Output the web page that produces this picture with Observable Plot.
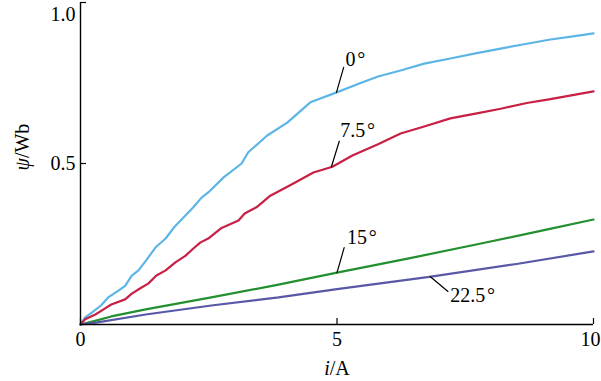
<!DOCTYPE html>
<html><head><meta charset="utf-8">
<script src="https://cdn.jsdelivr.net/npm/d3@7"></script>
<script src="https://cdn.jsdelivr.net/npm/@observablehq/plot@0.6"></script>
<style>
body{margin:0;background:#fff;font-family:'Liberation Serif',serif;}
.figwrap svg text { font-family: 'Liberation Serif' !important; }
</style>
</head><body><div id="fig" class="figwrap"></div>
<script>
const xTicks = [0, 5, 10];
const yTicks = [0.5, 1.0];
const seriesNames = ["0°", "7.5°", "15°", "22.5°"];
const seriesColors = ["#5cb5e6", "#c81f44", "#238f2f", "#5858a8"];

const current0 = [0, 0.09, 0.22, 0.4, 0.54, 0.74, 0.87, 1.0, 1.13, 1.28, 1.46, 1.66, 1.82, 1.97, 2.2, 2.36, 2.49, 2.79, 3.14, 3.27, 3.64, 4.03, 4.48, 4.93, 5.46, 5.8, 6.24, 6.7, 7.21, 7.7, 8.19, 8.7, 9.16, 9.6, 10];
const psi0     = [0, 0.022, 0.037, 0.059, 0.084, 0.105, 0.12, 0.152, 0.168, 0.199, 0.239, 0.267, 0.301, 0.326, 0.364, 0.394, 0.41, 0.457, 0.5, 0.535, 0.587, 0.627, 0.69, 0.717, 0.75, 0.77, 0.789, 0.81, 0.826, 0.842, 0.857, 0.872, 0.885, 0.895, 0.904];

const current75 = [0, 0.09, 0.29, 0.48, 0.6, 0.87, 1.0, 1.19, 1.32, 1.48, 1.66, 1.85, 2.05, 2.2, 2.34, 2.49, 2.75, 3.08, 3.2, 3.43, 3.7, 4.15, 4.54, 4.91, 5.3, 5.8, 6.24, 6.7, 7.21, 7.7, 8.19, 8.7, 9.16, 10];
const psi75     = [0, 0.016, 0.031, 0.05, 0.062, 0.078, 0.096, 0.115, 0.127, 0.152, 0.168, 0.193, 0.214, 0.236, 0.255, 0.267, 0.3, 0.323, 0.345, 0.364, 0.4, 0.438, 0.472, 0.49, 0.525, 0.56, 0.593, 0.615, 0.64, 0.655, 0.67, 0.688, 0.7, 0.724];

const current15 = [0, 0.3, 0.6, 1.27, 2.55, 3.86, 5, 6.45, 7.76, 9.06, 10];
const psi15     = [0, 0.012, 0.025, 0.047, 0.084, 0.124, 0.161, 0.207, 0.25, 0.294, 0.326];

const current225 = [0, 0.3, 1.27, 2.55, 3.86, 5, 6.8, 8.5, 10];
const psi225     = [0, 0.006, 0.031, 0.059, 0.084, 0.11, 0.148, 0.188, 0.227];

const labelCurrents = [4.99, 4.89, 5.0, 6.82];

const currents = [current0, current75, current15, current225];
const psis = [psi0, psi75, psi15, psi225];

const rows = [];
seriesNames.forEach((name, k) => currents[k].forEach((c, j) => rows.push({series: name, i: c, psi: psis[k][j]})));

function interp(xs, ys, x) {
  for (let j = 1; j < xs.length; j++) {
    if (x <= xs[j]) { const t = (x - xs[j-1]) / (xs[j] - xs[j-1]); return ys[j-1] + t * (ys[j] - ys[j-1]); }
  }
  return ys[ys.length - 1];
}
const anchors = seriesNames.map((name, k) => ({name, i: labelCurrents[k], psi: interp(currents[k], psis[k], labelCurrents[k])}));

// leader geometry (style): rotate, length, text dx, dy
const leaderStyle = [
  {rotate: 16, length: 26, dx: 9, dy: -33},
  {rotate: 17, length: 27, dx: 9, dy: -36},
  {rotate: 16, length: 26, dx: 10, dy: -35},
  {rotate: 130, length: 23, dx: 20, dy: 19}
];
const lineShape = {draw(context, l) { context.moveTo(0, 0); context.lineTo(0, -l); }};
const FONT = "Liberation Serif";
const T = {fontSize: 20, fontFamily: FONT, fill: "#000"};

const marks = [];
seriesNames.forEach((name, k) => {
  marks.push(Plot.line(rows.filter(d => d.series === name), {x: "i", y: "psi", stroke: seriesColors[k], strokeWidth: 2.2}));
});
anchors.forEach((a, k) => {
  const s = leaderStyle[k];
  marks.push(Plot.vector([a], {x: "i", y: "psi", anchor: "start", rotate: s.rotate, length: s.length, shape: lineShape, stroke: "#000", strokeWidth: 1.2}));
  marks.push(Plot.text([a], {...T, x: "i", y: "psi", text: d => d.name.replace("°", "\u200A°"), textAnchor: "start", lineAnchor: "middle", dx: s.dx, dy: s.dy}));
});
marks.push(Plot.ruleX([0], {stroke: "#000", strokeWidth: 1.4}));
marks.push(Plot.ruleY([0], {stroke: "#000", strokeWidth: 1.4}));
// ticks (inward)
marks.push(Plot.axisX({ticks: xTicks, tickSize: -6, fill: "none", label: null, stroke: "#000", strokeWidth: 1.2}));
marks.push(Plot.axisY({ticks: yTicks, tickSize: -6, fill: "none", label: null, stroke: "#000", strokeWidth: 1.2}));
// tick labels
marks.push(Plot.text(xTicks.slice(0, -1), {...T, x: d => d, frameAnchor: "bottom", lineAnchor: "top", dy: 7, text: d => String(d)}));
marks.push(Plot.text(xTicks.slice(-1), {...T, x: d => d, frameAnchor: "bottom", lineAnchor: "top", dy: 7, dx: -3, text: d => String(d)}));
marks.push(Plot.text(yTicks.slice(0, 1), {...T, y: d => d, frameAnchor: "left", textAnchor: "end", lineAnchor: "middle", dx: -5, text: d => d3.format(".1f")(d)}));
marks.push(Plot.text(yTicks.slice(1), {...T, y: d => d, frameAnchor: "left", textAnchor: "end", lineAnchor: "middle", dx: -5, dy: 12, text: d => d3.format(".1f")(d)}));
// axis titles
marks.push(Plot.text(["i/A"], {...T, frameAnchor: "bottom", dy: 44, lineAnchor: "middle"}));
marks.push(Plot.text(["ψ/Wb"], {...T, frameAnchor: "left", dx: -58, dy: 7, rotate: -90, lineAnchor: "middle"}));

const chart = Plot.plot({
  width: 601, height: 381,
  marginLeft: 80, marginRight: 8, marginTop: 2, marginBottom: 57,
  x: {domain: [0, 10], axis: null},
  y: {domain: [0, 1], axis: null},
  marks
});
chart.setAttribute("font-family", "Liberation Serif, serif");
document.getElementById("fig").appendChild(chart);
chart.querySelectorAll("g").forEach(g => { if (g.hasAttribute("font-family")) g.setAttribute("font-family", "Liberation Serif, serif"); });
chart.querySelectorAll("text").forEach(t => {
  if (t.textContent === "i/A") t.innerHTML = '<tspan font-style="italic">i</tspan>/A';
  if (t.textContent === "ψ/Wb") t.innerHTML = '<tspan font-style="italic">ψ</tspan>/Wb';
  t.setAttribute("font-family", "Liberation Serif, serif");
  t.style.setProperty("font-family", "'Liberation Serif', serif", "important");
});
</script>
</body></html>
